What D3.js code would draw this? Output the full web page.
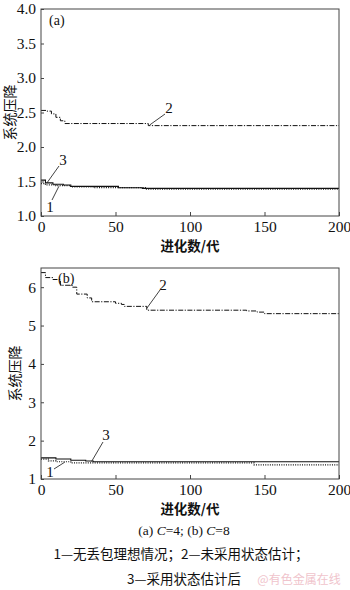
<!DOCTYPE html>
<html><head><meta charset="utf-8">
<script src="https://cdn.jsdelivr.net/npm/d3@7"></script>
<style>body{margin:0;background:#fff}svg{display:block}</style>
</head><body>
<script>
// ---- data ----
const xTicks = [0, 50, 100, 150, 200];
const yTicksA = [1.0, 1.5, 2.0, 2.5, 3.0, 3.5, 4.0];
const yTicksB = [1, 2, 3, 4, 5, 6];

// panel (a) C=4
const aGen1 = [0, 3, 10, 20, 35, 70, 200];
const aVal1 = [1.47, 1.45, 1.44, 1.42, 1.41, 1.39, 1.39];
const aGen2 = [0, 4, 7, 10, 13, 16, 72, 200];
const aVal2 = [2.53, 2.52, 2.48, 2.43, 2.38, 2.34, 2.31, 2.31];
const aGen3 = [0, 3, 8, 15, 20, 52, 68, 200];
const aVal3 = [1.52, 1.48, 1.46, 1.45, 1.43, 1.41, 1.40, 1.40];

// panel (b) C=8
const bGen1 = [0, 5, 10, 20, 143, 200];
const bVal1 = [1.52, 1.47, 1.45, 1.42, 1.37, 1.37];
const bGen2 = [0, 3, 8, 13, 21, 24, 31, 34, 50, 54, 56, 71, 138, 145, 150, 200];
const bVal2 = [6.38, 6.25, 6.2, 6.05, 6.0, 5.82, 5.72, 5.62, 5.58, 5.55, 5.5, 5.4, 5.38, 5.35, 5.31, 5.3];
const bGen3 = [0, 10, 20, 30, 35, 200];
const bVal3 = [1.55, 1.52, 1.49, 1.47, 1.45, 1.45];

const yTitle = "系统压降";
const xTitle = "进化数/代";
const legend1 = "1—无丢包理想情况；2—未采用状态估计；";
const legend2 = "3—采用状态估计后";

// ---- drawing ----
const W = 350, H = 590;
const svg = d3.select("body").append("svg").attr("width", W).attr("height", H);
const serif = "'Liberation Serif','Times New Roman',serif";
const cjk = "'Noto Sans CJK SC','Liberation Serif',sans-serif";

const styles = {
  1: {dash: "1,1.3", w: 1.2},
  2: {dash: "5,1.5,1.2,1.5", w: 1},
  3: {dash: null, w: 1.1}
};

function panel(cfg) {
  const x = d3.scaleLinear().domain([0, 200]).range([41, 339]);
  const y = d3.scaleLinear().domain(cfg.yDomain).range([cfg.bottom, cfg.top]);
  const g = svg.append("g");

  cfg.series.forEach(s => {
    const pts = s.gen.map((gv, i) => [gv, s.val[i]]);
    const line = d3.line().x(d => x(d[0])).y(d => y(d[1])).curve(d3.curveStepAfter);
    g.append("path").attr("d", line(pts)).attr("fill", "none")
      .attr("stroke", "#111").attr("stroke-width", styles[s.id].w)
      .attr("stroke-dasharray", styles[s.id].dash);
  });

  g.append("rect").attr("x", x(0)).attr("y", y(cfg.yDomain[1]))
    .attr("width", x(200) - x(0)).attr("height", y(cfg.yDomain[0]) - y(cfg.yDomain[1]))
    .attr("fill", "none").attr("stroke", "#444").attr("stroke-width", 1);

  const xa = d3.axisBottom(x).tickValues(xTicks).tickSize(-4).tickPadding(5).tickFormat(d3.format("d"));
  const gx = g.append("g").attr("transform", `translate(0,${cfg.bottom})`).call(xa);
  const ya = d3.axisLeft(y).tickValues(cfg.yTicks).tickSize(-3).tickPadding(5).tickFormat(cfg.fmt);
  const gy = g.append("g").attr("transform", `translate(41,0)`).call(ya);
  [gx, gy].forEach(a => {
    a.select(".domain").remove();
    a.selectAll("line").attr("stroke", "#444");
    a.selectAll("text").attr("font-family", serif).attr("font-size", 15.5).attr("fill", "#111");
  });

  g.append("text").attr("transform", `translate(${cfg.ytx},${(cfg.top + cfg.bottom) / 2}) rotate(-90)`)
    .attr("text-anchor", "middle").attr("dominant-baseline", "central")
    .attr("font-family", cjk).attr("font-size", 14).attr("fill", "#111").text(yTitle);
  g.append("text").attr("x", 190).attr("y", cfg.bottom + 29).attr("text-anchor", "middle")
    .attr("dominant-baseline", "central").attr("font-family", cjk).attr("font-weight", "bold")
    .attr("font-size", 13.5).attr("fill", "#111").text(xTitle);

  g.append("text").attr("x", cfg.letter[0]).attr("y", cfg.letter[1]).attr("dominant-baseline", "central")
    .attr("font-family", serif).attr("font-size", 14).attr("fill", "#111").text(cfg.letterText);

  cfg.callouts.forEach(c => {
    g.append("line").attr("x1", x(c.from[0])).attr("y1", y(c.from[1]))
      .attr("x2", c.to[0]).attr("y2", c.to[1]).attr("stroke", "#111").attr("stroke-width", 0.8);
    g.append("text").attr("x", c.txt[0]).attr("y", c.txt[1]).attr("text-anchor", "middle")
      .attr("dominant-baseline", "central").attr("font-family", serif).attr("font-size", 15)
      .attr("fill", "#111").text(c.label);
  });
}

panel({
  yDomain: [1.0, 4.0], top: 9, bottom: 216, yTicks: yTicksA, fmt: d3.format(".1f"), ytx: 9,
  letter: [49, 20], letterText: "(a)",
  series: [{id: 1, gen: aGen1, val: aVal1}, {id: 2, gen: aGen2, val: aVal2}, {id: 3, gen: aGen3, val: aVal3}],
  callouts: [
    {label: "2", from: [73, 2.32], to: [165, 114], txt: [169, 108]},
    {label: "3", from: [4, 1.48], to: [59, 166], txt: [63, 160]},
    {label: "1", from: [12, 1.43], to: [52, 200], txt: [50, 207]}
  ]
});

panel({
  yDomain: [1, 6.5], top: 268, bottom: 479, yTicks: yTicksB, fmt: d3.format("d"), ytx: 14,
  letter: [58, 278], letterText: "(b)",
  series: [{id: 1, gen: bGen1, val: bVal1}, {id: 2, gen: bGen2, val: bVal2}, {id: 3, gen: bGen3, val: bVal3}],
  callouts: [
    {label: "2", from: [71, 5.45], to: [160, 290], txt: [163, 285]},
    {label: "3", from: [34, 1.46], to: [103, 442], txt: [106, 435]},
    {label: "1", from: [16, 1.44], to: [54, 469], txt: [50, 472]}
  ]
});

const cap = svg.append("text").attr("x", 184).attr("y", 530).attr("text-anchor", "middle")
  .attr("dominant-baseline", "central").attr("font-family", serif).attr("font-size", 13.5).attr("fill", "#111");
cap.append("tspan").text("(a) ");
cap.append("tspan").attr("font-style", "italic").text("C");
cap.append("tspan").text("=4; (b) ");
cap.append("tspan").attr("font-style", "italic").text("C");
cap.append("tspan").text("=8");

svg.append("text").attr("x", 181).attr("y", 553).attr("text-anchor", "middle").attr("dominant-baseline", "central")
  .attr("font-family", cjk).attr("font-size", 13.5).attr("fill", "#111").text(legend1);
svg.append("text").attr("x", 184).attr("y", 578).attr("text-anchor", "middle").attr("dominant-baseline", "central")
  .attr("font-family", cjk).attr("font-size", 13.5).attr("fill", "#111").text(legend2);
svg.append("text").attr("x", 299).attr("y", 578).attr("text-anchor", "middle").attr("dominant-baseline", "central")
  .attr("font-family", cjk).attr("font-size", 12).attr("fill", "#f0c4cc").text("@有色金属在线");
</script>
</body></html>
